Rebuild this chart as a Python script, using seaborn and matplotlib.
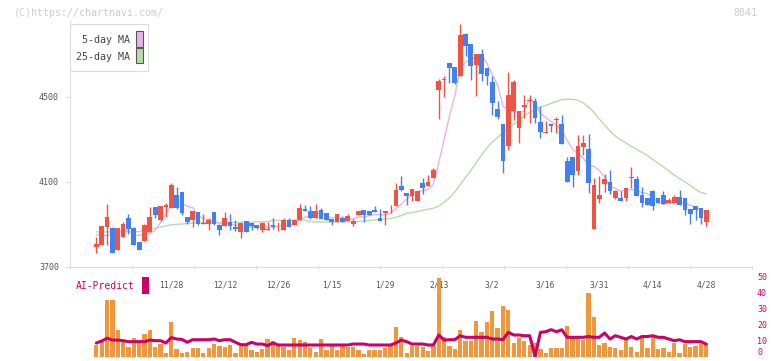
import numpy as np
import pandas as pd
import matplotlib
matplotlib.use("Agg")
import matplotlib.pyplot as plt
from matplotlib.patches import Rectangle
import seaborn as sns

# ---------------- data ----------------
opens = [3853, 3796, 3805, 3890, 3885, 3780, 3841, 3929, 3883, 3818,
         3822, 3865, 3982, 3921, 3984, 3979, 4039, 4053, 3935, 3921,
         3959, 3902, 3902, 3959, 3898, 3893, 3912, 3888, 3865, 3916,
         3907, 3898, 3874, 3874, 3898, 3891, 3874, 3921, 3898, 3921,
         3973, 3964, 3931, 3968, 3954, 3926, 3912, 3931, 3916, 3902,
         3945, 3968, 3964, 3968, 3931, 3954, 3971, 3987, 4081, 4048,
         4034, 4011, 4095, 4081, 4119, 4533, 4578, 4660, 4641, 4600,
         4796, 4749, 4650, 4702, 4636, 4570, 4444, 4373, 4268, 4434,
         4356, 4455, 4480, 4481, 4381, 4330, 4373, 4393, 4373, 4199,
         4216, 4153, 4266, 4255, 3880, 4020, 4091, 4101, 4026, 4025,
         4026, 4118, 4114, 4039, 4023, 4059, 4026, 4039, 4003, 4000,
         4028, 4023, 3973, 3987, 3976, 3912]
highs = [3855, 3843, 3894, 3996, 3890, 3882, 3913, 3949, 3890, 3818,
         3902, 3984, 3982, 3987, 4001, 4095, 4075, 4053, 3935, 3964,
         3959, 3951, 3932, 3959, 3898, 3959, 3949, 3921, 3907, 3916,
         3907, 3898, 3913, 3912, 3931, 3912, 3931, 3931, 3921, 3996,
         3992, 3987, 3996, 3978, 3954, 3926, 3949, 3940, 3949, 3926,
         3964, 3968, 3964, 3987, 3973, 3964, 3992, 4095, 4128, 4048,
         4067, 4058, 4119, 4133, 4166, 4584, 4599, 4660, 4641, 4843,
         4801, 4749, 4702, 4726, 4636, 4599, 4481, 4373, 4619, 4580,
         4434, 4509, 4509, 4495, 4457, 4387, 4373, 4404, 4415, 4218,
         4216, 4321, 4321, 4326, 4117, 4128, 4138, 4156, 4062, 4058,
         4072, 4172, 4128, 4078, 4023, 4062, 4026, 4058, 4023, 4039,
         4062, 4023, 3973, 3987, 3976, 3968]
lows = [3853, 3767, 3805, 3805, 3764, 3780, 3841, 3854, 3805, 3780,
        3822, 3865, 3932, 3918, 3937, 3979, 3975, 3945, 3902, 3890,
        3898, 3902, 3874, 3898, 3851, 3893, 3874, 3869, 3837, 3865,
        3874, 3879, 3865, 3874, 3879, 3869, 3874, 3888, 3898, 3921,
        3965, 3925, 3931, 3926, 3921, 3898, 3912, 3912, 3916, 3893,
        3945, 3912, 3945, 3959, 3916, 3898, 3954, 3987, 4058, 3992,
        4011, 4011, 4044, 4081, 4119, 4396, 4502, 4564, 4561, 4600,
        4693, 4580, 4505, 4575, 4556, 4415, 4396, 4144, 4251, 4392,
        4284, 4400, 4378, 4378, 4305, 4330, 4334, 4332, 4279, 4101,
        4075, 4133, 4227, 4050, 3880, 4003, 4054, 4044, 4020, 4012,
        4012, 4070, 4036, 3984, 3992, 3968, 4000, 3996, 4003, 4000,
        3992, 3945, 3902, 3921, 3902, 3893]
closes = [3855, 3808, 3894, 3937, 3764, 3882, 3902, 3879, 3805, 3780,
          3898, 3935, 3945, 3987, 3992, 4086, 3979, 3956, 3912, 3964,
          3902, 3908, 3921, 3902, 3874, 3931, 3893, 3879, 3907, 3865,
          3893, 3884, 3907, 3879, 3888, 3894, 3921, 3888, 3921, 3978,
          3965, 3931, 3964, 3926, 3921, 3912, 3949, 3912, 3940, 3916,
          3964, 3945, 3945, 3959, 3916, 3964, 3974, 4062, 4062, 4034,
          4067, 4058, 4072, 4100, 4157, 4575, 4584, 4638, 4566, 4792,
          4741, 4646, 4702, 4608, 4599, 4472, 4406, 4200, 4509, 4572,
          4434, 4460, 4485, 4400, 4337, 4334, 4363, 4397, 4279, 4101,
          4133, 4269, 4282, 4097, 4086, 4039, 4113, 4059, 4058, 4012,
          4072, 4122, 4036, 4003, 3992, 3987, 4000, 3996, 4015, 4031,
          3992, 3968, 3949, 3968, 3931, 3968]

# first 5-day MA values (need history before the window)
ma5_head = [np.nan, 3852, 3850, 3848]

ma25 = [np.nan, 3865, 3865, 3865, 3865, 3866, 3866, 3866, 3866, 3866,
        3874, 3879, 3882, 3888, 3894, 3898, 3901, 3902, 3905, 3907,
        3909, 3909, 3909, 3909, 3909, 3909, 3909, 3910, 3910, 3910,
        3910, 3913, 3913, 3913, 3919, 3919, 3919, 3919, 3921, 3921,
        3921, 3914, 3912, 3912, 3912, 3912, 3912, 3912, 3912, 3912,
        3914, 3916, 3919, 3921, 3924, 3926, 3929, 3934, 3942, 3952,
        3956, 3960, 3967, 3972, 3976, 3987, 4004, 4025, 4053, 4088,
        4121, 4154, 4191, 4227, 4260, 4288, 4309, 4333, 4352, 4371,
        4389, 4411, 4427, 4441, 4451, 4460, 4470, 4478, 4488, 4489,
        4489, 4484, 4472, 4453, 4429, 4396, 4368, 4340, 4316, 4298,
        4284, 4267, 4253, 4239, 4225, 4206, 4188, 4171, 4152, 4133,
        4116, 4101, 4084, 4065, 4051, 4044]

volume = [np.nan, 7.5, 9.2, 35.6, 35.6, 16.9, 10.6, 6.5, 11.9, 10.6,
          14.4, 16.9, 6.5, 8.1, 2.5, 22.1, 5.0, 2.5, 3.3, 5.6,
          5.6, 2.5, 5.6, 8.1, 7.1, 6.5, 7.5, 2.5, 7.1, 8.1,
          4.6, 3.3, 5.0, 11.2, 10.2, 7.1, 6.0, 4.6, 11.9, 10.6,
          9.6, 5.6, 3.3, 11.2, 4.6, 6.7, 4.4, 8.1, 6.5, 6.5,
          4.6, 1.9, 4.2, 4.2, 4.2, 5.6, 7.3, 18.7, 12.3, 2.5,
          7.1, 6.7, 6.0, 4.0, 6.7, 49.2, 12.3, 6.7, 5.0, 16.9,
          10.2, 10.2, 22.7, 15.8, 22.1, 28.5, 18.1, 31.9, 29.4, 8.75,
          11.9, 10.2, 7.5, 8.75, 5.0, 2.5, 5.6, 5.6, 5.6, 19.2,
          12.3, 12.3, 10.8, 40.0, 25.2, 7.5, 8.75, 6.5, 5.6, 4.4,
          11.25, 6.5, 3.3, 12.3, 5.6, 12.3, 5.0, 5.6, 3.3, 8.75,
          2.5, 8.1, 6.5, 7.1, 8.1, 8.1]

ai_predict = [np.nan, 8.75, 10.0, 11.7, 10.6, 10.6, 10.2, 9.6, 9.6, 9.6,
              9.6, 10.6, 10.2, 10.2, 8.75, 12.1, 11.25, 11.0, 9.2, 10.8,
              10.8, 10.8, 10.8, 11.25, 10.2, 10.8, 10.8, 9.2, 7.7, 7.7,
              9.2, 8.1, 8.1, 7.1, 8.75, 7.5, 7.5, 7.5, 7.5, 7.5,
              7.5, 7.5, 7.5, 7.5, 7.5, 7.5, 7.5, 7.5, 7.5, 8.1,
              8.1, 8.1, 7.5, 7.5, 7.5, 7.5, 7.5, 8.75, 10.6, 9.6,
              8.1, 8.1, 8.1, 7.5, 7.5, 13.75, 10.6, 10.8, 10.8, 13.3,
              12.3, 12.3, 12.3, 12.3, 12.3, 11.25, 11.25, 10.8, 15.4, 13.75,
              13.75, 13.3, 13.3, 0.4, 15.4, 15.8, 17.1, 15.8, 17.0, 12.3,
              12.3, 12.3, 12.3, 12.8, 12.3, 12.3, 15.0, 11.25, 13.3, 12.3,
              11.25, 12.8, 11.25, 12.8, 12.8, 13.3, 12.3, 12.3, 11.25, 10.2,
              10.8, 9.6, 9.6, 9.6, 9.6, 8.1]

date_labels = ["11/28", "12/12", "12/26", "1/15", "1/29", "2/13",
               "3/2", "3/16", "3/31", "4/14", "4/28"]
date_label_idx = [15, 25, 35, 45, 55, 65, 75, 85, 95, 105, 115]

price_ticks = [3700, 4100, 4500]
ai_ticks = [0, 10, 20, 30, 40, 50]

# ---------------- style ----------------
sns.set_theme(style="white")
plt.rcParams["font.family"] = ["DejaVu Sans Mono", "DejaVu Sans"]

RED = "#f25242"
BLUE = "#4280f0"
PINK = "#e8b2e8"
GREEN = "#b8dca8"
ORANGE = "#f0963c"
MAGENTA = "#cc0066"
AXC = "#dddddd"
TXT = "#555555"

W, H = 772, 361
fig = plt.figure(figsize=(W / 100, H / 100), dpi=100)
fig.patch.set_facecolor("white")


def frac(x0, y0, x1, y1):
    return [x0 / W, 1 - y1 / H, (x1 - x0) / W, (y1 - y0) / H]


ax = fig.add_axes(frac(70, 20, 752, 267))
axv = fig.add_axes(frac(70, 277, 752, 357))

n = len(closes)
df = pd.DataFrame({
    "idx": np.arange(n),
    "open": opens, "high": highs, "low": lows, "close": closes,
    "ma25": ma25, "volume": volume, "ai": ai_predict,
})
ma5 = df["close"].rolling(5).mean()
ma5.iloc[:len(ma5_head)] = ma5_head
df["ma5"] = ma5

XL = (-3.925, 123.55)

# ---------------- candles ----------------
up = df["close"] >= df["open"]
cols = np.where(up, RED, BLUE)
body_lo = np.minimum(df["open"], df["close"])
body_h = np.maximum((df["close"] - df["open"]).abs(), 4)

sns.lineplot(data=df, x="idx", y="ma25", ax=ax, color=GREEN, lw=1.0)
sns.lineplot(data=df, x="idx", y="ma5", ax=ax, color=PINK, lw=1.0)
ax.vlines(df["idx"], df["low"], df["high"], colors=cols, lw=1.0, zorder=3)
ax.bar(df["idx"], body_h, bottom=body_lo, width=0.88, color=cols,
       linewidth=0, zorder=4)

ax.set_xlim(*XL)
ax.set_ylim(3700, 4862)
ax.set_xlabel("")
ax.set_ylabel("")
for s in ["top", "right"]:
    ax.spines[s].set_visible(False)
for s in ["left", "bottom"]:
    ax.spines[s].set_color(AXC)
    ax.spines[s].set_linewidth(0.8)

ax.set_yticks(price_ticks)
ax.set_yticklabels([str(v) for v in price_ticks])
ax.tick_params(axis="y", direction="out", length=3.6, width=0.8, color=AXC,
               labelcolor=TXT, labelsize=6, pad=4.3, left=True)

ax.set_xticks(date_label_idx)
ax.set_xticklabels(date_labels)
ax.tick_params(axis="x", which="major", length=0, labelcolor=TXT,
               labelsize=5.8, pad=9.5)
ax.set_xticks(np.linspace(XL[0], XL[1], 12), minor=True)
ax.tick_params(axis="x", which="minor", direction="inout", length=3.5,
               width=0.8, color=AXC, bottom=True)
ax.grid(False)

# ---------------- volume / AI-Predict ----------------
axv.bar(df["idx"], df["volume"], width=0.8, color=ORANGE, linewidth=0)
sns.lineplot(data=df, x="idx", y="ai", ax=axv, color=MAGENTA, lw=2.2,
             zorder=5)
axv.set_xlim(*XL)
axv.set_ylim(0, 50)
axv.set_xlabel("")
axv.set_ylabel("")
for s in axv.spines.values():
    s.set_visible(False)
axv.set_xticks([])
axv.yaxis.tick_right()
axv.set_yticks(ai_ticks)
axv.set_yticklabels([str(v) for v in ai_ticks])
axv.tick_params(axis="y", length=0, labelcolor=MAGENTA, labelsize=6, pad=3.6)
axv.grid(False)
axv.patch.set_alpha(0)
for lab in axv.get_yticklabels():
    if lab.get_text() == "0":
        lab.set_va("bottom")

# ---------------- decorations ----------------
fig.text(14 / W, 1 - 13 / H, "(C)https://chartnavi.com/", color="#cccccc",
         size=7.2, ha="left", va="center")
fig.text(757 / W, 1 - 13 / H, "8041", color="#cccccc", size=7.2,
         ha="right", va="center")

# legend box
fig.add_artist(Rectangle((70 / W, 1 - 71 / H), 78 / W, 47 / H,
                         transform=fig.transFigure, fill=True,
                         facecolor="white", edgecolor=AXC, lw=0.8, zorder=6))
fig.text(129.5 / W, 1 - 40 / H, "5-day MA", color="#444444", size=7.2,
         ha="right", va="center", zorder=7)
fig.text(129.5 / W, 1 - 56.5 / H, "25-day MA", color="#444444", size=7.2,
         ha="right", va="center", zorder=7)
fig.add_artist(Rectangle((136 / W, 1 - 46.5 / H), 6.5 / W, 15.5 / H,
                         transform=fig.transFigure, facecolor=PINK,
                         edgecolor="#555555", lw=0.8, zorder=7))
fig.add_artist(Rectangle((136 / W, 1 - 63.3 / H), 6.5 / W, 15.5 / H,
                         transform=fig.transFigure, facecolor=GREEN,
                         edgecolor="#555555", lw=0.8, zorder=7))

# AI-Predict label
fig.text(76 / W, 1 - 286 / H, "AI-Predict", color=MAGENTA, size=7,
         ha="left", va="center")
fig.add_artist(Rectangle((142 / W, 1 - 293.5 / H), 7 / W, 16.5 / H,
                         transform=fig.transFigure, facecolor=MAGENTA,
                         edgecolor="none"))

fig.savefig("out.png", dpi=100)
